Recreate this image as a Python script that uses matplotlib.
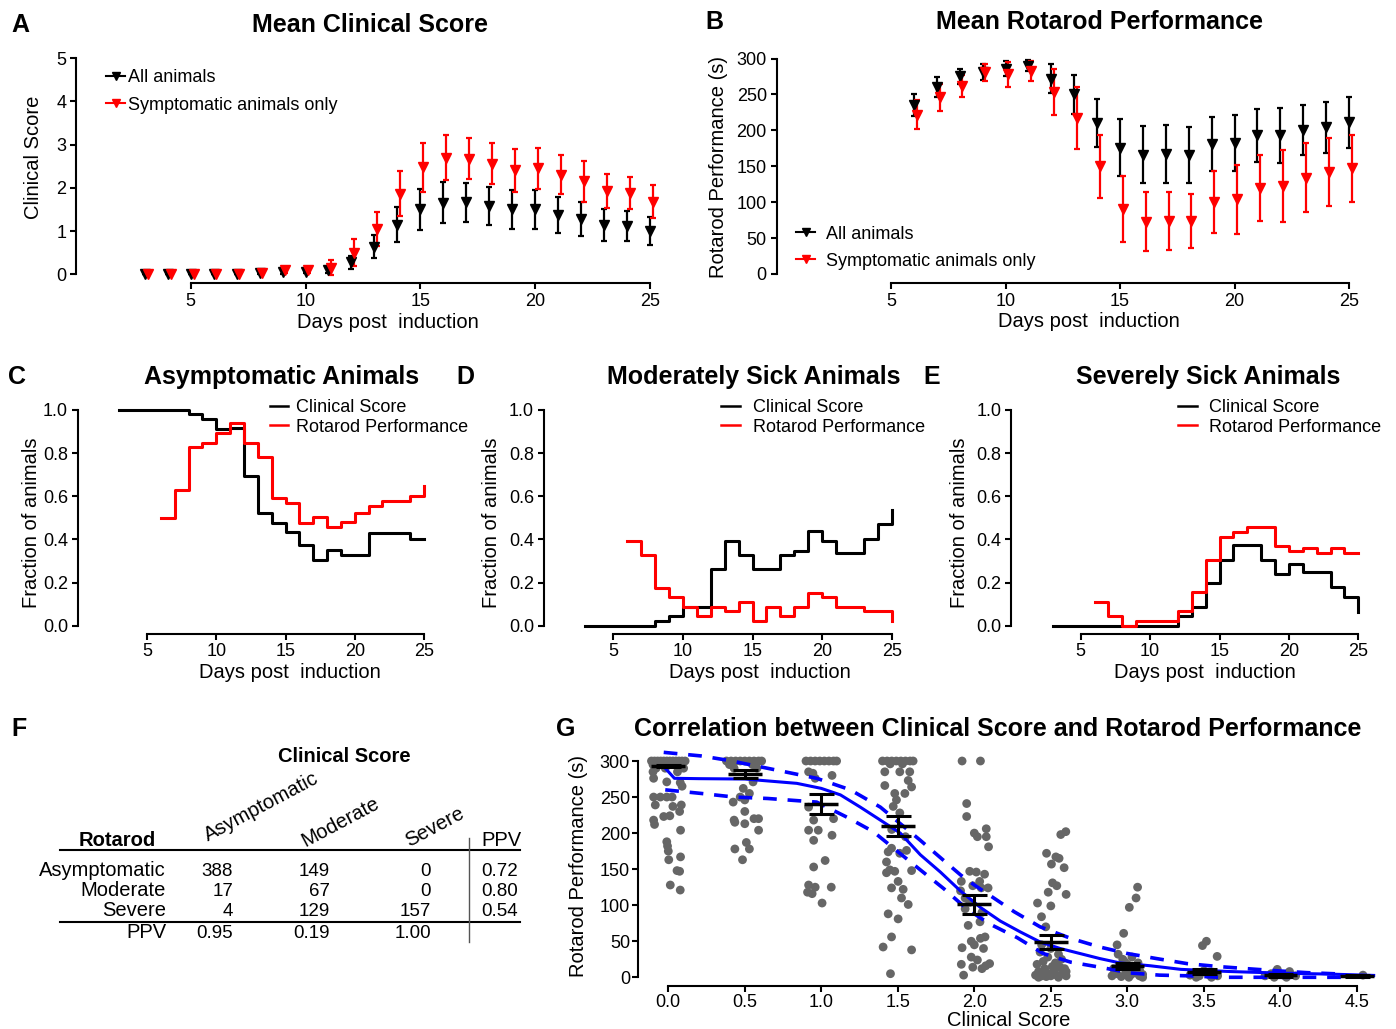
import matplotlib.pyplot as plt
from matplotlib.lines import Line2D
from matplotlib.ticker import FormatStrFormatter

plt.rcParams['font.family'] = ['Liberation Sans', 'DejaVu Sans']

# ---------------- A: mean clinical score ----------------
days_a = [3, 4, 5, 6, 7, 8, 9, 10, 11, 12, 13, 14, 15, 16, 17, 18, 19, 20, 21, 22, 23, 24, 25]
cs_all = [0, 0, 0, 0, 0, 0.02, 0.05, 0.06, 0.1, 0.28, 0.64, 1.15, 1.5, 1.66, 1.67, 1.58, 1.5, 1.5, 1.37, 1.28, 1.15, 1.12, 1.0]
cs_all_err = [0, 0, 0, 0, 0, 0.02, 0.04, 0.04, 0.08, 0.15, 0.27, 0.4, 0.48, 0.48, 0.45, 0.45, 0.45, 0.45, 0.42, 0.4, 0.37, 0.35, 0.33]
cs_sym = [0, 0, 0, 0, 0, 0.03, 0.1, 0.1, 0.15, 0.5, 1.05, 1.87, 2.48, 2.7, 2.68, 2.56, 2.41, 2.45, 2.3, 2.15, 1.93, 1.88, 1.68]
cs_sym_err = [0, 0, 0, 0, 0, 0.03, 0.06, 0.06, 0.17, 0.31, 0.4, 0.52, 0.57, 0.52, 0.47, 0.48, 0.5, 0.47, 0.45, 0.47, 0.4, 0.37, 0.38]

# ---------------- B: mean rotarod performance ----------------
days_b = [6, 7, 8, 9, 10, 11, 12, 13, 14, 15, 16, 17, 18, 19, 20, 21, 22, 23, 24, 25]
rr_all = [235, 260, 275, 281, 286, 290, 272, 250, 210, 176, 166, 167, 166, 181, 182, 193, 193, 200, 204, 211]
rr_all_err = [15, 14, 11, 11, 10, 8, 20, 27, 33, 40, 40, 40, 39, 38, 39, 37, 38, 35, 36, 35]
rr_sym = [222, 246, 262, 281, 278, 283, 254, 217, 150, 91, 73, 74, 74, 100, 104, 120, 123, 134, 142, 147]
rr_sym_err = [20, 19, 15, 12, 17, 14, 32, 43, 44, 46, 41, 40, 38, 43, 48, 46, 50, 48, 48, 47]

# ---------------- C-E: fraction of animals ----------------
days_cs = [3, 4, 5, 6, 7, 8, 9, 10, 11, 12, 13, 14, 15, 16, 17, 18, 19, 20, 21, 22, 23, 24, 25]
days_rr = [6, 7, 8, 9, 10, 11, 12, 13, 14, 15, 16, 17, 18, 19, 20, 21, 22, 23, 24, 25]
asym_cs = [1, 1, 1, 1, 1, 0.98, 0.958, 0.912, 0.915, 0.696, 0.521, 0.478, 0.436, 0.374, 0.304, 0.351,
           0.328, 0.328, 0.428, 0.428, 0.428, 0.40, 0.40]
asym_rr = [0.50, 0.63, 0.827, 0.849, 0.892, 0.938, 0.849, 0.784, 0.59, 0.567, 0.478, 0.502, 0.459,
           0.479, 0.521, 0.556, 0.58, 0.58, 0.60, 0.648]
mod_cs = [0, 0, 0, 0, 0, 0.022, 0.045, 0.088, 0.088, 0.263, 0.393, 0.328, 0.263, 0.263, 0.328, 0.348,
          0.439, 0.393, 0.335, 0.335, 0.40, 0.471, 0.536]
mod_rr = [0.393, 0.328, 0.173, 0.131, 0.088, 0.045, 0.088, 0.066, 0.111, 0.022, 0.088, 0.045, 0.088,
          0.153, 0.131, 0.088, 0.088, 0.068, 0.068, 0.022]
sev_cs = [0, 0, 0, 0, 0, 0, 0, 0, 0, 0.045, 0.088, 0.196, 0.304, 0.374, 0.374, 0.304, 0.24, 0.286,
          0.247, 0.247, 0.178, 0.134, 0.065]
sev_rr = [0.111, 0.045, 0.0, 0.022, 0.022, 0.022, 0.068, 0.155, 0.304, 0.413, 0.436, 0.459, 0.459,
          0.371, 0.348, 0.359, 0.335, 0.359, 0.335, 0.335]

# ---------------- F: contingency table ----------------
tab_cols = ['Asymptomatic', 'Moderate', 'Severe']
tab_rows = ['Asymptomatic', 'Moderate', 'Severe']
tab_counts = [[388, 149, 0], [17, 67, 0], [4, 129, 157]]
ppv_rows = ['0.72', '0.80', '0.54']
ppv_cols = ['0.95', '0.19', '1.00']

# ---------------- G: correlation ----------------
# (jitter, rotarod) for each clinical score level
g00 = [(-0.11, 300), (-0.09, 300), (-0.07, 300), (-0.05, 300), (-0.03, 300), (-0.01, 300), (0.01, 300),
       (0.03, 300), (0.05, 300), (0.07, 300), (0.09, 300), (0.11, 300), (-0.10, 295), (-0.06, 295),
       (0.04, 295), (0.08, 295), (-0.08, 290), (-0.02, 290), (0.10, 290), (-0.10, 285), (0.06, 285),
       (-0.096, 276), (-0.01, 271), (0.078, 270), (0.09, 265), (-0.096, 250), (-0.052, 250), (-0.01, 250),
       (0.025, 250), (-0.085, 239), (0.03, 237), (0.085, 239), (0.074, 230), (-0.03, 223), (0.01, 224),
       (-0.096, 218), (-0.09, 212), (0.08, 204), (-0.01, 188), (-0.005, 182), (0.0, 175), (0.003, 163),
       (0.08, 167), (0.057, 148), (0.074, 147), (0.013, 128), (0.078, 121)]
g05 = [(-0.12, 300), (-0.09, 300), (-0.06, 300), (-0.03, 300), (0.0, 300), (0.03, 300), (0.06, 300),
       (0.09, 300), (0.11, 300), (-0.10, 295), (0.05, 295), (-0.07, 290), (0.08, 290), (-0.01, 262),
       (0.054, 271), (0.03, 255), (-0.03, 250), (-0.076, 243), (0.0, 246), (0.0, 230), (0.06, 220),
       (0.09, 220), (-0.07, 218), (0.0, 213), (-0.065, 215), (0.09, 204), (-0.065, 178), (0.01, 187),
       (0.03, 178), (-0.015, 163)]
g10 = [(-0.10, 300), (-0.07, 300), (-0.04, 300), (-0.01, 300), (0.02, 300), (0.05, 300), (0.08, 300),
       (0.10, 300), (-0.083, 285), (-0.055, 283), (-0.04, 276), (0.07, 280), (-0.083, 236), (0.08, 220),
       (-0.05, 218), (-0.083, 204), (-0.02, 204), (-0.05, 190), (0.07, 197), (-0.05, 153), (0.025, 162),
       (-0.083, 128), (-0.04, 125), (-0.09, 118), (-0.06, 116), (0.065, 125), (0.005, 103)]
g15 = [(-0.10, 300), (-0.07, 300), (-0.04, 300), (-0.01, 300), (0.02, 300), (0.05, 300), (0.08, 300),
       (0.10, 300), (-0.05, 296), (0.03, 296), (-0.085, 285), (0.013, 285), (0.078, 285), (-0.085, 266),
       (0.068, 273), (0.09, 264), (0.046, 255), (-0.02, 255), (-0.009, 246), (-0.03, 237), (0.013, 228),
       (-0.04, 205), (0.05, 195), (-0.063, 174), (-0.041, 179), (0.013, 172), (0.057, 176), (-0.074, 160),
       (-0.052, 149), (-0.074, 145), (-0.02, 147), (0.09, 148), (0.002, 133), (-0.041, 124), (0.035, 122),
       (0.024, 110), (0.068, 101), (-0.063, 88), (0.002, 81), (-0.041, 56), (-0.096, 42), (0.09, 38),
       (-0.048, 5)]
g20 = [(-0.08, 300), (0.04, 300), (-0.05, 241), (-0.05, 223), (0.0, 200), (0.02, 195), (0.078, 206),
       (0.078, 195), (0.093, 181), (-0.03, 147), (0.013, 146), (0.067, 143), (-0.085, 133), (0.035, 133),
       (-0.01, 127), (0.045, 124), (0.09, 124), (-0.09, 120), (-0.06, 110), (-0.03, 104), (-0.06, 95),
       (0.05, 90), (0.037, 77), (-0.04, 72), (0.07, 56), (0.04, 54), (-0.02, 50), (0.0, 45), (-0.08, 41),
       (0.06, 40), (-0.02, 28), (0.02, 24), (-0.085, 18), (0.1, 19), (-0.01, 14), (0.05, 12), (0.075, 16),
       (-0.07, 3)]
g25 = [(0.065, 198), (0.098, 202), (-0.028, 172), (0.033, 167), (0.054, 165), (0.004, 157), (0.087, 152),
       (0.011, 131), (0.039, 127), (-0.017, 118), (0.1, 115), (-0.087, 103), (0.0, 99), (-0.061, 84),
       (-0.033, 70), (-0.06, 45), (0.0, 40), (-0.07, 35), (0.05, 32), (-0.02, 28), (0.07, 25), (-0.05, 22),
       (0.03, 20), (-0.09, 18), (0.01, 15), (0.06, 14), (-0.04, 12), (0.09, 12), (0.02, 9), (-0.08, 8),
       (0.1, 8), (0.08, 6), (-0.02, 5), (-0.1, 3), (0.04, 3), (-0.06, 2), (0.0, 2), (0.1, 2), (-0.03, 1),
       (0.05, 0), (-0.08, 0)]
g30 = [(0.067, 125), (0.057, 110), (0.013, 97), (-0.024, 61), (-0.067, 45), (-0.06, 32), (0.03, 28),
       (-0.03, 25), (-0.02, 22), (0.07, 20), (0.0, 18), (-0.05, 15), (0.06, 15), (-0.09, 12), (0.04, 12),
       (0.08, 10), (-0.08, 9), (-0.01, 8), (0.05, 6), (-0.07, 5), (0.1, 4), (0.02, 3), (-0.1, 2), (0.08, 2),
       (-0.04, 1), (0.01, 0), (0.1, 0)]
g35 = [(-0.009, 44), (0.017, 50), (0.087, 29), (0.0, 9), (0.06, 7), (-0.06, 6), (0.03, 4), (-0.09, 3),
       (-0.03, 2), (0.09, 2), (-0.05, 0), (0.05, 0)]
g40 = [(-0.02, 11), (0.06, 8), (-0.06, 5), (0.02, 3), (-0.1, 2), (0.1, 2), (-0.04, 0), (0.04, 0)]
g45 = [(0.04, 3)]
g_groups = [g00, g05, g10, g15, g20, g25, g30, g35, g40, g45]

score_levels = [0.0, 0.5, 1.0, 1.5, 2.0, 2.5, 3.0, 3.5, 4.0, 4.5]
score_mean = [293, 282, 240, 210, 101, 49, 16, 8, 3, 2]
score_sem = [2, 5, 14, 14, 13, 10, 4, 3, 2, 1]

fit_x = [-0.02, 0.04, 0.2, 0.5, 0.84, 1.0, 1.125, 1.255, 1.386, 1.516, 1.647, 1.778, 1.908, 2.039,
         2.17, 2.3, 2.43, 2.56, 2.69, 2.82, 2.95, 3.15, 3.35, 3.67, 4.0, 4.33, 4.61]
fit_y = [290, 276, 275.5, 275, 269, 262, 253, 236, 218, 200, 170, 146, 120, 97, 78, 63, 49, 40, 33, 26,
         20, 16, 11, 8, 5.8, 4.4, 2.6]
ci_up_x = [-0.03, 0.215, 0.39, 0.67, 0.97, 1.19, 1.386, 1.647, 1.8, 1.91, 2.0, 2.12, 2.26, 2.43, 2.63,
           2.82, 3.0, 3.19, 3.39, 3.59, 3.78, 3.98, 4.17, 4.4]
ci_up_y = [312, 307, 301, 289, 276, 260, 236, 190, 162, 142, 128, 111, 91, 70, 54, 42, 33, 26, 19, 15,
           12, 9, 6.5, 4.5]
ci_lo_x = [-0.02, 0.215, 0.43, 0.65, 0.97, 1.168, 1.34, 1.49, 1.647, 1.8, 1.95, 2.1, 2.28, 2.45, 2.63,
           2.82, 3.02, 3.21, 3.41, 3.6, 3.8, 4.0, 4.18, 4.4]
ci_lo_y = [260, 255, 250, 248, 243, 222, 202, 176, 149, 123, 95, 74, 55, 33, 21, 14, 6, 3, 2, 0, 0, 0, 0, 0]

W, H = 1396, 1029
fig = plt.figure(figsize=(W / 100, H / 100), dpi=100)


def axes_px(left, right, top, bottom):
    return fig.add_axes([left / W, 1 - bottom / H, (right - left) / W, (bottom - top) / H])


def txt(x, y, s, size=13, **kw):
    fig.text(x / W, 1 - y / H, s, fontsize=size, **kw)


def style(ax, xb, yb, out=6.5, pad=3):
    ax.spines[['top', 'right']].set_visible(False)
    ax.spines['bottom'].set_position(('outward', out))
    ax.spines['bottom'].set_bounds(*xb)
    ax.spines['left'].set_bounds(*yb)
    ax.spines['left'].set_linewidth(1.5)
    ax.spines['bottom'].set_linewidth(1.5)
    ax.tick_params(width=1.5, length=4, labelsize=13, pad=pad)


def legend_row(x0, x1, xt, y, label, color, marker=None, lw=1.5):
    fig.add_artist(Line2D([x0 / W, x1 / W], [1 - y / H] * 2, color=color, lw=lw,
                          transform=fig.transFigure))
    if marker:
        fig.add_artist(Line2D([(x0 + x1) / 2 / W], [1 - y / H], color=color, marker=marker, ms=6,
                              ls='none', transform=fig.transFigure))
    txt(xt, y + 6.5, label, 13, ha='left', va='baseline')


red = '#ff0000'
eb_kw = dict(fmt='v', ms=7.5, capsize=2.5, elinewidth=1.6, capthick=1.6, clip_on=False)

# A
ax = axes_px(76, 659, 58.3, 274.3)
ax.errorbar(days_a, cs_all, yerr=cs_all_err, color='k', **eb_kw)
ax.errorbar([d + 0.12 for d in days_a], cs_sym, yerr=cs_sym_err, color=red, **eb_kw)
ax.set_xlim(0, 25.4)
ax.set_ylim(0, 5)
ax.set_xticks([5, 10, 15, 20, 25])
ax.set_yticks([0, 1, 2, 3, 4, 5])
style(ax, (5, 25), (0, 5))
legend_row(106, 125, 128, 76, 'All animals', 'k', 'v')
legend_row(106, 125, 128, 103.3, 'Symptomatic animals only', red, 'v')
txt(20.5, 31.7, 'A', 18, weight='bold', ha='center', va='baseline')
txt(370, 31.7, 'Mean Clinical Score', 18, weight='bold', ha='center', va='baseline')
txt(33.3, 157.5, 'Clinical Score', 14.5, rotation=90, ha='center', va='center')
txt(387.5, 328, 'Days post  induction', 14.5, ha='center', va='baseline')

# B
ax = axes_px(776.5, 1358.2, 58.5, 274)
ax.errorbar(days_b, rr_all, yerr=rr_all_err, color='k', **eb_kw)
ax.errorbar([d + 0.12 for d in days_b], rr_sym, yerr=rr_sym_err, color=red, **eb_kw)
ax.set_xlim(0, 25.4)
ax.set_ylim(0, 300)
ax.set_xticks([5, 10, 15, 20, 25])
ax.set_yticks([0, 50, 100, 150, 200, 250, 300])
style(ax, (5, 25), (0, 300))
legend_row(796, 815, 826, 232.3, 'All animals', 'k', 'v')
legend_row(796, 815, 826, 259.3, 'Symptomatic animals only', red, 'v')
txt(714, 29, 'B', 18, weight='bold', ha='center', va='baseline')
txt(1100, 29, 'Mean Rotarod Performance', 18, weight='bold', ha='center', va='baseline')
txt(718, 167.5, 'Rotarod Performance (s)', 14.5, rotation=90, ha='center', va='center')
txt(1089, 327, 'Days post  induction', 14.5, ha='center', va='baseline')

# C, D, E
panels = [
    ('C', 'Asymptomatic Animals', asym_cs, asym_rr, (77.75, 428.2), 17, 281.7, 31.7, 289.5, (270, 288.3, 296)),
    ('D', 'Moderately Sick Animals', mod_cs, mod_rr, (543.7, 895.9), 465, 754, 491.7, 760, (720.7, 740, 752.7)),
    ('E', 'Severely Sick Animals', sev_cs, sev_rr, (1011.3, 1362.5), 932, 1208, 960, 1205, (1178, 1197, 1209.3)),
]
for letter, title, cs, rr, (x0, x1), lx, tx, yx, xx, (h0, h1, ht) in panels:
    ax = axes_px(x0, x1, 410, 625.7)
    ax.step(days_cs, cs, where='post', color='k', lw=2.2, clip_on=False)
    ax.step(days_rr, rr, where='post', color=red, lw=2.2, clip_on=False)
    ax.set_xlim(0, 25.3)
    ax.set_ylim(0, 1)
    ax.set_xticks([5, 10, 15, 20, 25])
    ax.set_yticks([0, 0.2, 0.4, 0.6, 0.8, 1.0])
    ax.yaxis.set_major_formatter(FormatStrFormatter('%.1f'))
    style(ax, (5, 25), (0, 1), out=5.8)
    legend_row(h0, h1, ht, 406, 'Clinical Score', 'k', lw=1.8)
    legend_row(h0, h1, ht, 425.3, 'Rotarod Performance', red, lw=1.8)
    txt(lx, 384, letter, 18, weight='bold', ha='center', va='baseline')
    txt(tx, 384, title, 18, weight='bold', ha='center', va='baseline')
    txt(yx, 523, 'Fraction of animals', 14.5, rotation=90, ha='center', va='center')
    txt(xx, 678.5, 'Days post  induction', 14.5, ha='center', va='baseline')

# F: table
txt(18.6, 736, 'F', 18, weight='bold', ha='center', va='baseline')
txt(344, 762, 'Clinical Score', 14.5, weight='bold', ha='center', va='baseline')
txt(117.5, 846, 'Rotarod', 14.5, weight='bold', ha='center', va='baseline')
txt(501, 846, 'PPV', 14.5, ha='center', va='baseline')
for name, (cx, cy) in zip(tab_cols, [(261, 807), (340, 822), (435, 827)]):
    txt(cx, cy, name, 14.5, rotation=28, ha='center', va='center')
col_right = [233, 330, 431]
row_base = [876, 896.5, 916]
for i, name in enumerate(tab_rows):
    txt(166, row_base[i], name, 14.5, ha='right', va='baseline')
    for j in range(3):
        txt(col_right[j], row_base[i], str(tab_counts[i][j]), 13.5, ha='right', va='baseline')
    txt(518, row_base[i], ppv_rows[i], 13.5, ha='right', va='baseline')
txt(166, 937.5, 'PPV', 14.5, ha='right', va='baseline')
for j in range(3):
    txt(col_right[j], 937.5, ppv_cols[j], 13.5, ha='right', va='baseline')
for y in [849.5, 922]:
    fig.add_artist(Line2D([60.5 / W, 520 / W], [1 - y / H] * 2, color='k', lw=1.5,
                          transform=fig.transFigure))
fig.add_artist(Line2D([469 / W] * 2, [1 - 838 / H, 1 - 942 / H], color='#555555', lw=1,
                      transform=fig.transFigure))

# G
ax = axes_px(637.7, 1379.8, 761, 977.3)
for lvl, pts in zip(score_levels, g_groups):
    ax.scatter([lvl + p[0] for p in pts], [p[1] for p in pts], s=40, color='#666666',
               edgecolors='none', clip_on=False, zorder=1)
ax.plot(fit_x, fit_y, color='#0000ff', lw=2.2, clip_on=False, zorder=2)
ax.plot(ci_up_x, ci_up_y, color='#0000ff', lw=2.6, ls=(0, (3.8, 3)), clip_on=False, zorder=2)
ax.plot(ci_lo_x, ci_lo_y, color='#0000ff', lw=2.6, ls=(0, (3.8, 3)), clip_on=False, zorder=2)
ax.hlines(score_mean, [s - 0.11 for s in score_levels], [s + 0.11 for s in score_levels],
          color='k', lw=2.5, zorder=3, clip_on=False)
ax.errorbar(score_levels, score_mean, yerr=score_sem, fmt='none', ecolor='k', elinewidth=2.2,
            capsize=9, capthick=2.2, zorder=3, clip_on=False)
ax.set_xlim(-0.2, 4.65)
ax.set_ylim(0, 300)
ax.set_xticks(score_levels)
ax.xaxis.set_major_formatter(FormatStrFormatter('%.1f'))
ax.set_yticks([0, 50, 100, 150, 200, 250, 300])
style(ax, (0, 4.5), (0, 300), pad=1.5)
txt(566, 736, 'G', 18, weight='bold', ha='center', va='baseline')
txt(998, 736, 'Correlation between Clinical Score and Rotarod Performance', 18, weight='bold',
    ha='center', va='baseline')
txt(578, 866, 'Rotarod Performance (s)', 14.5, rotation=90, ha='center', va='center')
txt(1009, 1026.5, 'Clinical Score', 14.5, ha='center', va='baseline')

fig.savefig('out.png', dpi=100)
